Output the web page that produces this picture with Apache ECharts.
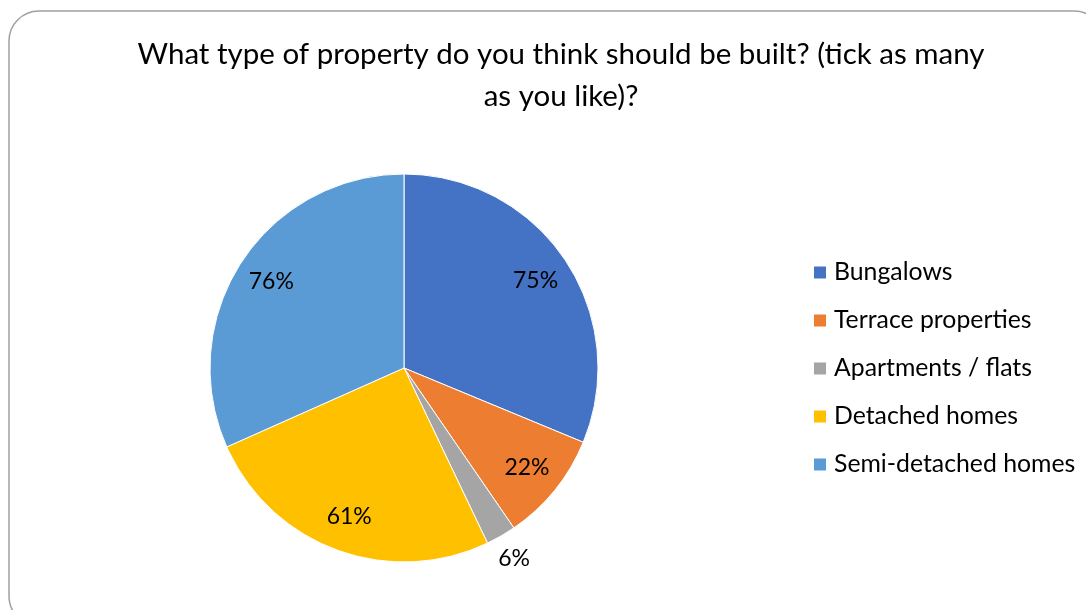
<!DOCTYPE html>
<html>
<head>
<meta charset="utf-8">
<style>
  html, body { margin: 0; padding: 0; background: #fff; }
  #chart { width: 1086px; height: 610px; }
</style>
<script src="https://cdn.jsdelivr.net/npm/echarts@6/dist/echarts.min.js"></script>
</head>
<body>
<div id="chart"></div>
<script>
// Survey answers: share of respondents choosing each property type
const categories = ['Bungalows', 'Terrace properties', 'Apartments / flats', 'Detached homes', 'Semi-detached homes'];
const percentages = [75, 22, 6, 61, 76];
const sliceColors = ['#4472C4', '#ED7D31', '#A5A5A5', '#FFC000', '#5B9BD5'];
// Slices whose label sits outside the pie
const outsideLabels = ['Apartments / flats'];

const FONT = 'Lato, "Open Sans", sans-serif';
const CENTER = [404, 368];
const R = 194;

const pieData = categories.map((name, i) => ({
  name,
  value: percentages[i],
  itemStyle: { color: sliceColors[i] }
}));

const labelText = p => p.value + '%';

// Transparent copy of the pie used only to place labels at a given radius
function labelRing(midRadius, showFor) {
  return {
    type: 'pie',
    silent: true,
    center: CENTER,
    radius: [0, midRadius * 2],
    startAngle: 90,
    clockwise: true,
    avoidLabelOverlap: false,
    data: categories.map((name, i) => ({
      name,
      value: percentages[i],
      itemStyle: { color: 'rgba(0,0,0,0)' },
      label: { show: showFor(name) }
    })),
    itemStyle: { color: 'rgba(0,0,0,0)', borderWidth: 0 },
    label: {
      position: 'inside',
      formatter: labelText,
      color: '#000',
      fontFamily: FONT,
      fontSize: 23
    },
    labelLine: { show: false },
    emphasis: { disabled: true },
    tooltip: { show: false },
    z: 3
  };
}

const chart = echarts.init(document.getElementById('chart'), null, { renderer: 'canvas' });
chart.setOption({
  backgroundColor: '#fff',
  animation: false,
  title: {
    text: 'What type of property do you think should be built? (tick as many\nas you like)?',
    left: 556,
    top: 28,
    textAlign: 'center',
    textStyle: {
      fontFamily: FONT,
      fontSize: 29.5,
      fontWeight: 'normal',
      color: '#000',
      lineHeight: 42
    }
  },
  legend: {
    orient: 'vertical',
    left: 812,
    top: 260,
    padding: 0,
    itemWidth: 14,
    itemHeight: 14,
    itemGap: 23,
    icon: 'rect',
    data: categories,
    textStyle: {
      fontFamily: FONT,
      fontSize: 24.8,
      lineHeight: 22,
      color: '#000',
      padding: [0, 0, 0, 2]
    }
  },
  graphic: [{
    type: 'rect',
    shape: { x: 9, y: 11, width: 1095, height: 615, r: 30 },
    style: { fill: 'none', stroke: '#A0A0A0', lineWidth: 1.5 },
    z: 0,
    silent: true
  }],
  series: [
    {
      type: 'pie',
      center: CENTER,
      radius: [0, R],
      startAngle: 90,
      clockwise: true,
      data: pieData,
      itemStyle: { borderColor: '#fff', borderWidth: 1 },
      label: { show: false },
      labelLine: { show: false },
      emphasis: { scale: false },
      z: 2
    },
    labelRing(R * 0.8, name => !outsideLabels.includes(name)),
    labelRing(R * 1.12, name => outsideLabels.includes(name))
  ]
});
</script>
</body>
</html>
